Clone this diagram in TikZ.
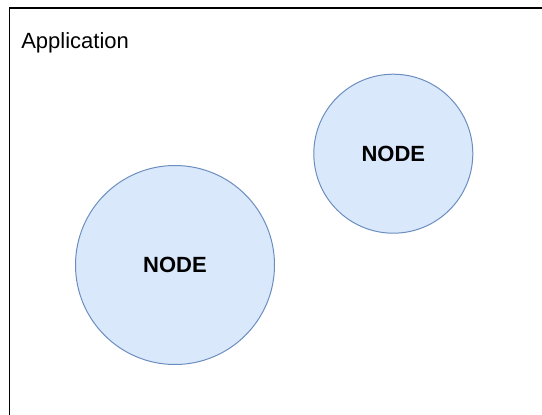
\documentclass[tikz,border=0pt]{standalone}
\usepackage{fontspec}
\setmainfont{Liberation Sans}
\definecolor{nodefill}{HTML}{DAE8FC}
\definecolor{nodeline}{HTML}{6C8EBF}
\begin{document}
\begin{tikzpicture}[x=0.75pt,y=-0.75pt,
  appframe/.style={draw=black,line width=0.9pt},
  nodecircle/.style={circle,draw=nodeline,fill=nodefill,line width=0.75pt,inner sep=0pt,font=\fontsize{16.5pt}{18pt}\selectfont\bfseries},
  apptitle/.style={anchor=base west,inner sep=0pt,font=\fontsize{16.5pt}{18pt}\selectfont}]
\useasboundingbox (0,0) rectangle (542,414);
\clip (0,0) rectangle (542,414);
\draw[appframe] (9.5,8) rectangle (600,470);
\node[apptitle] (title) at (21,48) {Application};
\node[nodecircle,minimum size=199*0.75pt] (n1) at (175,265) {NODE};
\node[nodecircle,minimum size=159*0.75pt] (n2) at (393.3,153.7) {NODE};
\end{tikzpicture}
\end{document}
